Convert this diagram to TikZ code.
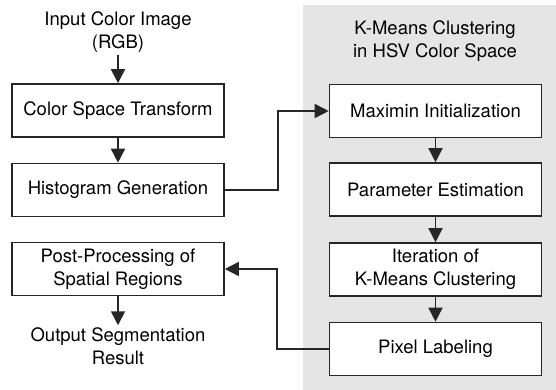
\documentclass[tikz,border=0pt]{standalone}
\usepackage{fontspec}
\setmainfont{TeX Gyre Heros}
\usetikzlibrary{arrows.meta}

\begin{document}
\begin{tikzpicture}[
    x=1pt,y=-1pt,
    stepbox/.style={draw=black!85,line width=1.6pt,fill=white,
      minimum width=212pt,minimum height=53pt,inner sep=0pt,align=center},
    plain/.style={align=center,inner sep=2pt},
    flow/.style={line width=1.6pt,draw=black!85,
      -{Triangle[width=14pt,length=14pt]}}]

  \useasboundingbox (0,0) rectangle (556,390);
  \fontsize{18.5}{23}\selectfont

  % shaded area
  \fill[black!10] (303,5) rectangle (556,390);

  % left column
  \node[plain] (input) at (118,32) {Input Color Image\\(RGB)};
  \node[stepbox] (transform) at (118,110.5) {Color Space Transform};
  \node[stepbox] (histo) at (118,190) {Histogram Generation};
  \node[stepbox] (postproc) at (118,269) {Post-Processing of\\Spatial Regions};
  \node[plain] (output) at (118,346) {Output Segmentation\\Result};

  % right column
  \node[plain] (kmeans) at (435,41) {K-Means Clustering\\in HSV Color Space};
  \node[stepbox] (maximin) at (435.5,111) {Maximin Initialization};
  \node[stepbox] (param) at (435.5,189.5) {Parameter Estimation};
  \node[stepbox] (iter) at (435.5,269.5) {Iteration of\\K-Means Clustering};
  \node[stepbox] (pixlab) at (435.5,349) {Pixel Labeling};

  \draw[flow] (input) -- (transform);
  \draw[flow] (transform) -- (histo);
  \draw[flow] (postproc) -- (output);
  \draw[flow] (maximin) -- (param);
  \draw[flow] (param) -- (iter);
  \draw[flow] (iter) -- (pixlab);

  \draw[flow] (histo.east) -- ++(53,0) |- (maximin.west);
  \draw[flow] (pixlab.west) -- ++(-52,0) |- (postproc.east);
\end{tikzpicture}
\end{document}
